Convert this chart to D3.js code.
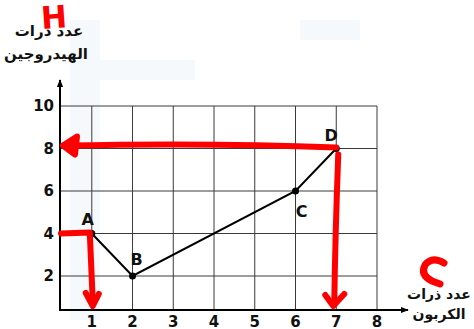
<!DOCTYPE html>
<html>
<head>
<meta charset="utf-8">
<script src="https://cdn.jsdelivr.net/npm/d3@7"></script>
<style>
  html, body { margin: 0; padding: 0; background: #fff; }
  svg { display: block; }
</style>
</head>
<body>
<svg id="chart" width="474" height="329"></svg>
<script>
// Carbon atoms (x) vs hydrogen atoms (y) for the four labelled points
const pointNames = ["A", "B", "C", "D"];
const carbonCounts = [1, 2, 6, 7];
const hydrogenCounts = [4, 2, 6, 8];
const xTicks = [1, 2, 3, 4, 5, 6, 7, 8];
const yTicks = [2, 4, 6, 8, 10];
const xTitle = ["عدد ذرات", "الكربون"];
const yTitle = ["عدد ذرات", "الهيدروجين"];

const svg = d3.select("#chart");
const W = 474, H = 329;
svg.append("rect").attr("width", W).attr("height", H).attr("fill", "#fff");

// faint background decoration
const deco = svg.append("g").attr("fill", "#f6f9fb");
deco.append("rect").attr("x", 70).attr("y", 20).attr("width", 30).attr("height", 300);
deco.append("rect").attr("x", 100).attr("y", 60).attr("width", 95).attr("height", 20);
deco.append("rect").attr("x", 300).attr("y", 20).attr("width", 60).attr("height", 20);

const x = d3.scaleLinear().domain([0.22, 8]).range([60, 377]);
const y = d3.scaleLinear().domain([0.4, 10]).range([310, 106]);

const x0 = x.range()[0], y0 = y.range()[0];

// grid
const grid = svg.append("g").attr("stroke", "#3a3a3a").attr("stroke-width", 1);
grid.selectAll("line.v").data(xTicks).join("line")
  .attr("x1", d => x(d)).attr("x2", d => x(d))
  .attr("y1", y0).attr("y2", y(10));
grid.selectAll("line.h").data(yTicks).join("line")
  .attr("y1", d => y(d)).attr("y2", d => y(d))
  .attr("x1", x0).attr("x2", x(8));

// axes with arrowheads
const defs = svg.append("defs");
defs.append("marker").attr("id", "arr").attr("viewBox", "0 0 10 10")
  .attr("refX", 9).attr("refY", 5).attr("markerWidth", 8).attr("markerHeight", 8)
  .attr("markerUnits", "userSpaceOnUse").attr("orient", "auto")
  .append("path").attr("d", "M0,1 L10,5 L0,9 Z").attr("fill", "#000");

svg.append("line").attr("x1", x0).attr("y1", y0).attr("x2", 408).attr("y2", y0)
  .attr("stroke", "#000").attr("stroke-width", 2).attr("marker-end", "url(#arr)");
svg.append("line").attr("x1", x0).attr("y1", y0 + 1).attr("x2", x0).attr("y2", 80)
  .attr("stroke", "#000").attr("stroke-width", 2).attr("marker-end", "url(#arr)");

// tick labels
const tickFont = "'DejaVu Sans', sans-serif";
svg.append("g").selectAll("text").data(xTicks).join("text")
  .attr("x", d => x(d)).attr("y", 327)
  .attr("text-anchor", "middle").attr("font-family", tickFont)
  .attr("font-size", 15).attr("font-weight", "bold").attr("fill", "#111")
  .text(d => d);
svg.append("g").selectAll("text").data(yTicks).join("text")
  .attr("x", 54).attr("y", d => y(d)).attr("dy", "0.36em")
  .attr("text-anchor", "end").attr("font-family", tickFont)
  .attr("font-size", 15).attr("font-weight", "bold").attr("fill", "#111")
  .text(d => d);

// data line and points
const pts = carbonCounts.map((c, i) => ({ name: pointNames[i], c, h: hydrogenCounts[i] }));
svg.append("path").datum(pts)
  .attr("d", d3.line().x(d => x(d.c)).y(d => y(d.h)))
  .attr("fill", "none").attr("stroke", "#000").attr("stroke-width", 2);
svg.append("g").selectAll("circle").data(pts).join("circle")
  .attr("cx", d => x(d.c)).attr("cy", d => y(d.h)).attr("r", 3.5).attr("fill", "#000");

const labelOffsets = { A: [-4, -14], B: [4, -17], C: [6, 20], D: [-5, -13] };
svg.append("g").selectAll("text").data(pts).join("text")
  .attr("x", d => x(d.c) + labelOffsets[d.name][0])
  .attr("y", d => y(d.h) + labelOffsets[d.name][1])
  .attr("dy", "0.36em").attr("text-anchor", "middle")
  .attr("font-family", tickFont).attr("font-size", 16).attr("font-weight", "bold")
  .attr("fill", "#111").text(d => d.name);

// axis titles
const arabicFont = "'DejaVu Sans', sans-serif";
svg.append("g").selectAll("text").data(yTitle).join("text")
  .attr("x", (d, i) => i ? 46 : 49).attr("y", (d, i) => 36 + i * 23)
  .attr("text-anchor", "middle").attr("direction", "rtl")
  .attr("font-family", arabicFont).attr("font-size", 15).attr("font-weight", "bold")
  .attr("fill", "#111").text(d => d);
svg.append("g").selectAll("text").data(xTitle).join("text")
  .attr("x", 439).attr("y", (d, i) => 299 + i * 20)
  .attr("text-anchor", "middle").attr("direction", "rtl")
  .attr("font-family", arabicFont).attr("font-size", 14).attr("font-weight", "bold")
  .attr("fill", "#111").text(d => d);

// red hand-drawn annotations
const red = svg.append("g").attr("fill", "none").attr("stroke", "#ff0000")
  .attr("stroke-width", 6).attr("stroke-linecap", "round").attr("stroke-linejoin", "round");
const A = pts[0], D = pts[3];
// A: from hydrogen axis to A, then down to carbon axis
red.append("path").attr("d",
  `M${x0 + 1},${y(A.h)} L${x(A.c) - 2},${y(A.h) - 1} L${x(A.c) + 1},${y0 - 8}`);
red.append("path").attr("d",
  `M${x(A.c) - 6},${y0 - 17} L${x(A.c) + 1},${y0 - 4} L${x(A.c) + 7},${y0 - 16}`);
// D: left to hydrogen axis
red.append("path").attr("d",
  `M${x(D.c)},${y(D.h) - 1} Q${x(4)},${y(D.h) - 6} ${x0 + 4},${y(D.h) - 3}`);
red.append("path").attr("d",
  `M${x0 + 17},${y(D.h) - 12} L${x0 + 3},${y(D.h) - 3} L${x0 + 15},${y(D.h) + 6} Z`)
  .attr("fill", "#ff0000");
// D: down to carbon axis
red.append("path").attr("d",
  `M${x(D.c) + 2},${y(D.h) + 6} Q${x(D.c) - 1},${y(4)} ${x(D.c) - 2},${y0 - 6}`);
red.append("path").attr("d",
  `M${x(D.c) - 11},${y0 - 15} L${x(D.c) - 3},${y0 - 4} L${x(D.c) + 8},${y0 - 16}`);

// red letters H and C
svg.append("text").attr("x", 54).attr("y", 28).attr("text-anchor", "middle")
  .attr("font-family", "'DejaVu Sans', sans-serif").attr("font-size", 31)
  .attr("font-weight", "bold").attr("fill", "#ff0000")
  .attr("transform", "rotate(-4 54 17)").text("H");
svg.append("path")
  .attr("d", "M444,263 Q432,256 425,265 Q420,275 432,281 L440,284")
  .attr("fill", "none").attr("stroke", "#ff0000").attr("stroke-width", 7)
  .attr("stroke-linecap", "round");
</script>
</body>
</html>
